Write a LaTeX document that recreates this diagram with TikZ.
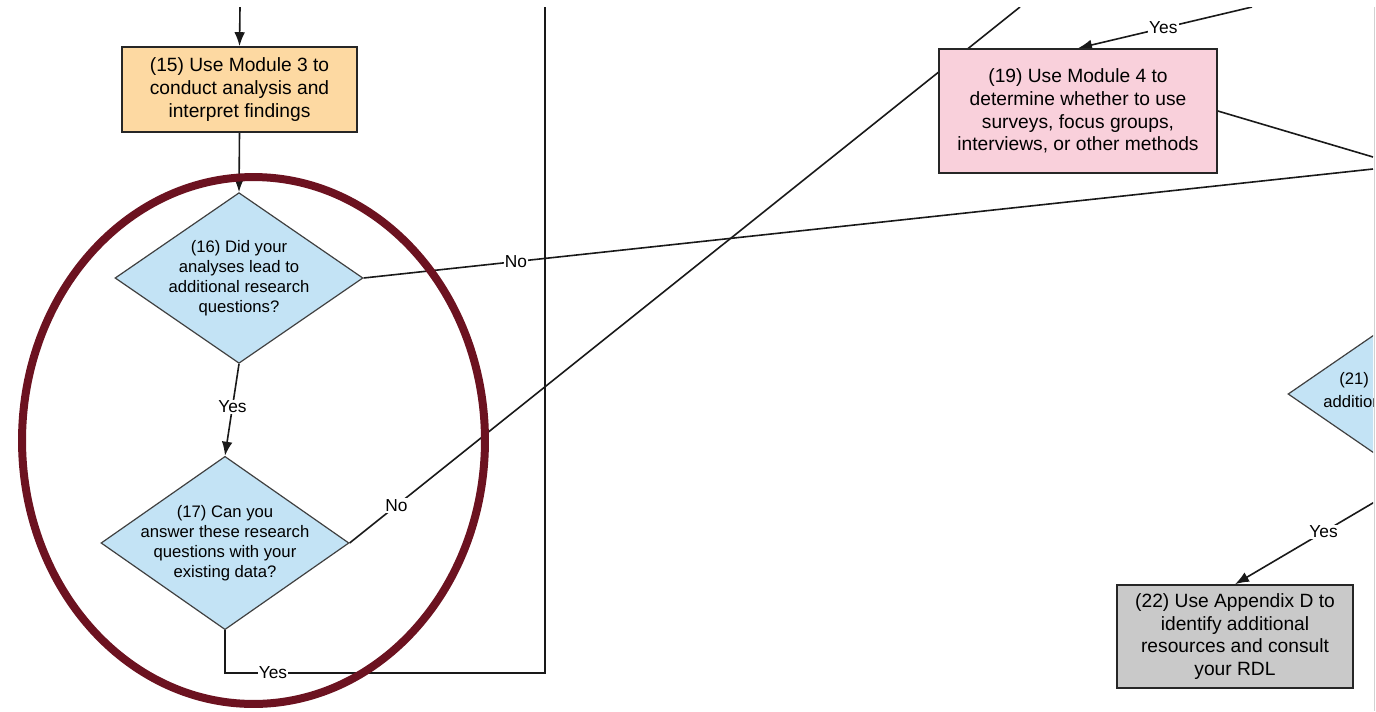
\documentclass[tikz,border=0pt]{standalone}
\usepackage{fontspec}
\setmainfont{Liberation Sans}
\usetikzlibrary{shapes.geometric,arrows.meta}
\pgfdeclarelayer{bg}
\pgfsetlayers{bg,main}
\definecolor{boxorange}{HTML}{FDD9A2}
\definecolor{boxpink}{HTML}{F9D0DB}
\definecolor{boxgray}{HTML}{C9C9C9}
\definecolor{diablue}{HTML}{C3E3F5}
\definecolor{ringred}{HTML}{6C1220}
\begin{document}
\begin{tikzpicture}[x=0.75pt,y=-0.75pt,
  procbox/.style={rectangle,draw=black!85,line width=1.2pt,inner sep=0pt,align=center,
    font=\fontsize{14.4}{16.9}\selectfont},
  dia/.style={diamond,draw=black!75,line width=0.9pt,fill=diablue,inner sep=0pt,
    minimum width=186pt,minimum height=128pt},
  diatext/.style={align=center,inner sep=0pt,font=\fontsize{12.5}{15}\selectfont},
  conn/.style={line width=1.2pt,draw=black!90},
  arr/.style={conn,-{Latex[length=10.5pt,width=8pt]}},
  lbl/.style={fill=white,inner sep=1pt,font=\fontsize{13}{15}\selectfont}]
\useasboundingbox (0,0) rectangle (1376,711);

\begin{scope}
\clip (0,7) rectangle (1373,711);
% boxes
\node[procbox,fill=boxorange,minimum width=176.25pt,minimum height=63.75pt] (b15) at (239.5,89.5)
  {(15) Use Module 3 to\\conduct analysis and\\interpret findings};
\node[procbox,fill=boxpink,minimum width=208.5pt,minimum height=93pt] (b19) at (1078,111)
  {(19) Use Module 4 to\\determine whether to use\\surveys, focus groups,\\interviews, or other methods};
\node[procbox,fill=boxgray,minimum width=177pt,minimum height=77.25pt] (b22) at (1235,636.5)
  {(22) Use Appendix D to\\identify additional\\resources and consult\\your RDL};
% diamonds
\node[dia] (d16) at (239,278) {};
\node[diatext] at (d16) {(16) Did your\\analyses lead to\\additional research\\questions?};
\node[dia,minimum height=130pt] (d17) at (225,543) {};
\node[diatext] at (d17) {(17) Can you\\answer these research\\questions with your\\existing data?};
\node[dia] (d21) at (1412,394) {};
\node[diatext,anchor=west] (t21a) at (1339,380) {(21)};
\node[diatext,anchor=west] (t21b) at (1323,402) {additional};
\end{scope}

% connectors
\coordinate (top15) at (240,7);
\coordinate (c17a) at (225,673);
\coordinate (c17b) at (545,673);
\coordinate (c17c) at (545,7);
\coordinate (n17) at (1020,7);
\coordinate (n16) at (1373,169);
\coordinate (e19) at (1373,157);
\coordinate (y19) at (1252,7);
\begin{pgfonlayer}{bg}
\begin{scope}
\clip (0,7) rectangle (1373,711);
\draw[arr] (top15) -- (b15.north);
\draw[arr] (b15.south) -- (d16.north);
\draw[arr] (d16.south) -- node[lbl,pos=0.47] {Yes} (d17.north);
\draw[conn] (d17.east) -- node[lbl,pos=0.07] {No} (n17);
\draw[conn] (d17.south) -- (c17a) -- node[lbl,pos=0.15] {Yes} (c17b) -- (c17c);
\draw[conn] (d16.east) -- node[lbl,pos=0.151] {No} (n16);
\draw[conn] (b19.east) -- (e19);
\draw[arr] (y19) -- node[lbl,pos=0.51] {Yes} (b19.north);
\draw[arr] (d21.south) -- node[lbl,pos=0.5] {Yes} (b22.north);
\end{scope}
\end{pgfonlayer}

% page edge
\draw[black!18,line width=1pt] (1374.5,7) -- (1374.5,711);

% highlight ring
\draw[ringred,line width=6pt] (253.5,440.5) ellipse [x radius=173.6pt,y radius=197.6pt];
\end{tikzpicture}
\end{document}
